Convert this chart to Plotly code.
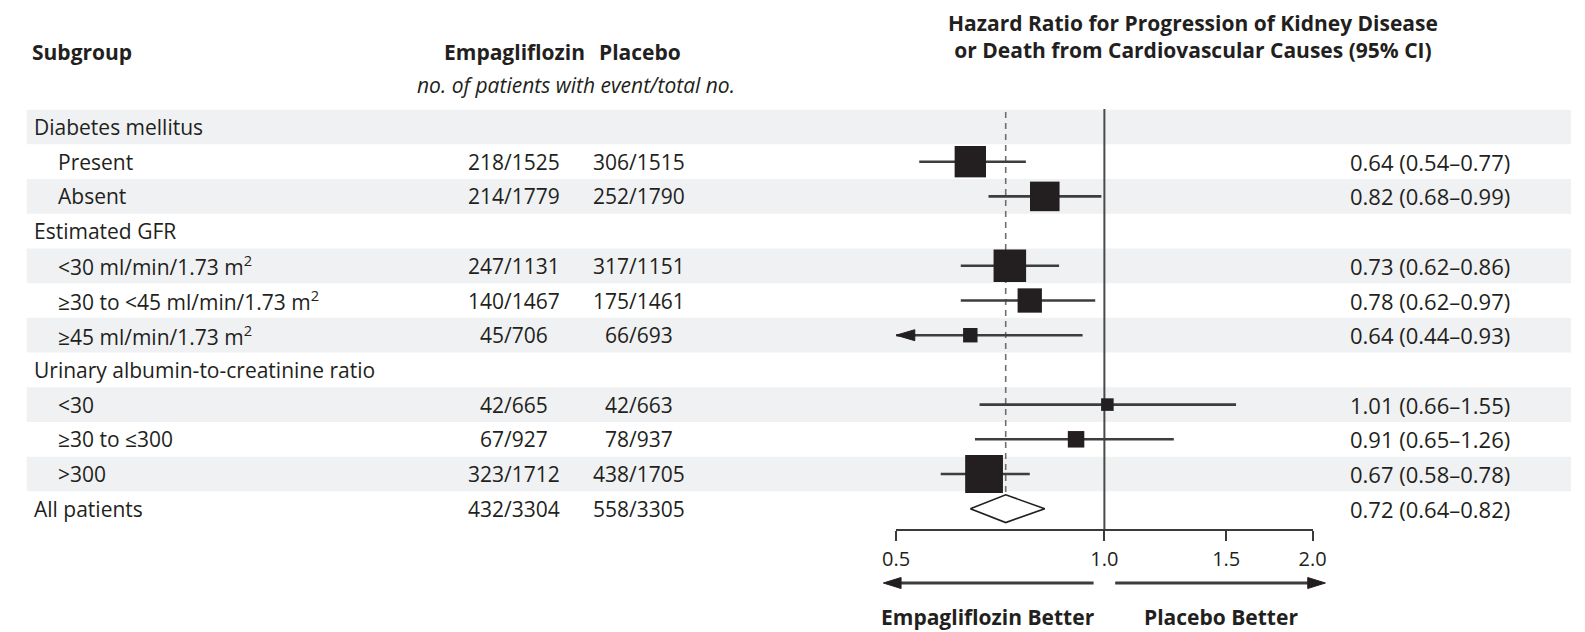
import math
import plotly.graph_objects as go

# ---------------- data ----------------
subgroups = ["Diabetes mellitus", "Present", "Absent", "Estimated GFR",
             "&lt;30 ml/min/1.73 m<sup>2</sup>", "≥30 to &lt;45 ml/min/1.73 m<sup>2</sup>",
             "≥45 ml/min/1.73 m<sup>2</sup>", "Urinary albumin-to-creatinine ratio",
             "&lt;30", "≥30 to ≤300", "&gt;300", "All patients"]
row_kind = ["header", "sub", "sub", "header", "sub", "sub", "sub", "header",
            "sub", "sub", "sub", "overall"]
emp_events = [None, 218, 214, None, 247, 140, 45, None, 42, 67, 323, 432]
emp_total = [None, 1525, 1779, None, 1131, 1467, 706, None, 665, 927, 1712, 3304]
pbo_events = [None, 306, 252, None, 317, 175, 66, None, 42, 78, 438, 558]
pbo_total = [None, 1515, 1790, None, 1151, 1461, 693, None, 663, 937, 1705, 3305]
hr = [None, 0.64, 0.82, None, 0.73, 0.78, 0.64, None, 1.01, 0.91, 0.67, 0.72]
ci_lo = [None, 0.54, 0.68, None, 0.62, 0.62, 0.44, None, 0.66, 0.65, 0.58, 0.64]
ci_hi = [None, 0.77, 0.99, None, 0.86, 0.97, 0.93, None, 1.55, 1.26, 0.78, 0.82]
tick_vals = [0.5, 1.0, 1.5, 2.0]
tick_text = ["0.5", "1.0", "1.5", "2.0"]
x_min, x_max = 0.5, 2.0

# ---------------- layout helpers ----------------
W, H = 1585, 632
FONT = "Open Sans"
TXT = "#231f20"
LINE = "#3d3d3d"
BAND = "#f0f1f3"
FS = 21

ROW0_PX = 127.0       # pixel centre of first row
ROW_H = 34.7          # pixel height of a row
AXIS_PX = 529.0       # pixel y of the x axis line
AX_L, AX_R = 898.0, 1322.0

def px(x):
    return x / W

def py(y):
    return 1 - y / H

y_bottom = (AXIS_PX - ROW0_PX) / ROW_H
y_top = (0 - ROW0_PX) / ROW_H
px_per_decade = (AX_R - AX_L) / (math.log10(x_max) - math.log10(x_min))

fig = go.Figure()
shapes = []
annotations = []

n = len(subgroups)
# shaded bands
for i in range(n):
    if i % 2 == 0 and i < n - 1:
        shapes.append(dict(type="rect", xref="paper", yref="y", x0=px(13), x1=1,
                           y0=i - 0.5, y1=i + 0.5, fillcolor=BAND, line=dict(width=0),
                           layer="below"))

# reference line at 1.0 and dashed line at overall HR
fig.add_trace(go.Scatter(x=[1.0, 1.0], y=[-0.52, y_bottom], mode="lines",
                         line=dict(color="#4a4a4a", width=2), hoverinfo="skip",
                         cliponaxis=False))
fig.add_trace(go.Scatter(x=[hr[-1], hr[-1]], y=[-0.43, n - 1 - 0.4], mode="lines",
                         line=dict(color="#6e6e6e", width=1.6, dash="6px,5px"),
                         hoverinfo="skip", cliponaxis=False))

# CI lines, arrows and boxes
box_x, box_y, box_s = [], [], []
for i in range(n):
    if hr[i] is None or row_kind[i] == "overall":
        continue
    lo = max(ci_lo[i], x_min)
    fig.add_trace(go.Scatter(x=[lo, ci_hi[i]], y=[i, i], mode="lines",
                             line=dict(color=LINE, width=2.6), hoverinfo="skip",
                             cliponaxis=False))
    if ci_lo[i] < x_min:
        back = x_min * 10 ** (19 / px_per_decade)
        hh = 5.5 / ROW_H
        fig.add_trace(go.Scatter(x=[x_min, back, back, x_min], y=[i, i - hh, i + hh, i],
                                 mode="lines", fill="toself", fillcolor="#231f20",
                                 line=dict(color="#231f20", width=1), hoverinfo="skip",
                                 cliponaxis=False))
    box_x.append(hr[i])
    box_y.append(i)
    box_s.append(1.37 * math.sqrt(emp_events[i] + pbo_events[i]))

fig.add_trace(go.Scatter(x=box_x, y=box_y, mode="markers",
                         marker=dict(symbol="square", size=box_s, color="#231f20",
                                     opacity=1, line=dict(width=0)),
                         hoverinfo="skip", cliponaxis=False))

# diamond for overall
k = n - 1
fig.add_trace(go.Scatter(x=[ci_lo[k], hr[k], ci_hi[k], hr[k], ci_lo[k]],
                         y=[k, k - 0.4, k, k + 0.4, k], mode="lines",
                         fill="toself", fillcolor="white",
                         line=dict(color="#231f20", width=1.6), hoverinfo="skip",
                         cliponaxis=False))

# text columns
for i in range(n):
    xl = 18 if row_kind[i] in ("header", "overall") else 43
    annotations.append(dict(xref="paper", yref="y", x=px(xl), y=i, text=subgroups[i],
                            xanchor="left", yanchor="middle", showarrow=False,
                            font=dict(family=FONT, size=FS, color=TXT)))
    if emp_events[i] is not None:
        annotations.append(dict(xref="paper", yref="y", x=px(509), y=i,
                                text=f"{emp_events[i]}/{emp_total[i]}",
                                xanchor="center", yanchor="middle", showarrow=False,
                                font=dict(family=FONT, size=FS, color=TXT)))
        annotations.append(dict(xref="paper", yref="y", x=px(636), y=i,
                                text=f"{pbo_events[i]}/{pbo_total[i]}",
                                xanchor="center", yanchor="middle", showarrow=False,
                                font=dict(family=FONT, size=FS, color=TXT)))
    if hr[i] is not None:
        annotations.append(dict(xref="paper", yref="y", x=px(1358), y=i,
                                text=f"{hr[i]:.2f} ({ci_lo[i]:.2f}–{ci_hi[i]:.2f})",
                                xanchor="left", yanchor="middle", showarrow=False,
                                font=dict(family=FONT, size=22, color=TXT)))

# headers
def head(x, y, text, anchor="center", size=FS):
    annotations.append(dict(xref="paper", yref="paper", x=px(x), y=py(y), text=text,
                            xanchor=anchor, yanchor="middle", showarrow=False,
                            font=dict(family=FONT, size=size, color=TXT)))

head(16, 52, "<b>Subgroup</b>", "left")
head(509, 52, "<b>Empagliflozin</b>")
head(637, 52, "<b>Placebo</b>")
head(572, 85, "<i>no. of patients with event/total no.</i>")
head(1200, 37, "<b>Hazard Ratio for Progression of Kidney Disease<br>"
               "or Death from Cardiovascular Causes (95% CI)</b>")
head(992, 617, "<b>Empagliflozin Better</b>")
head(1229, 617, "<b>Placebo Better</b>")

# direction arrows below axis
AY = 583
for tail, tip in ((1099, 885), (1121, 1335)):
    d = 1 if tip > tail else -1
    shapes.append(dict(type="line", xref="paper", yref="paper", x0=px(tail), x1=px(tip - d * 10),
                       y0=py(AY), y1=py(AY), line=dict(color=LINE, width=3)))
    shapes.append(dict(type="path", xref="paper", yref="paper",
                       path=f"M{px(tip)},{py(AY)} L{px(tip - d * 18)},{py(AY - 5.5)} "
                            f"L{px(tip - d * 18)},{py(AY + 5.5)} Z",
                       fillcolor="#231f20", line=dict(color="#231f20", width=1)))

fig.update_layout(
    width=W, height=H,
    margin=dict(l=0, r=0, t=0, b=0, pad=0),
    paper_bgcolor="white", plot_bgcolor="rgba(0,0,0,0)",
    showlegend=False,
    shapes=shapes, annotations=annotations,
    xaxis=dict(type="log", domain=[px(AX_L), px(AX_R)],
               range=[math.log10(x_min), math.log10(x_max)],
               showgrid=False, zeroline=False, showline=True, linewidth=2,
               linecolor="#3a3a3a", ticks="outside", ticklen=10, tickwidth=2,
               tickcolor="#3a3a3a", tickvals=tick_vals, ticktext=tick_text,
               tickfont=dict(family=FONT, size=20, color=TXT), ticklabelstandoff=1,
               fixedrange=True),
    yaxis=dict(domain=[py(AXIS_PX), 1], range=[y_bottom, y_top], visible=False,
               showgrid=False, zeroline=False, fixedrange=True),
)

fig.write_html("out.html",
               config={"displayModeBar": False},
               post_script="document.body.style.margin='0';"
                           "document.body.style.overflow='hidden';")
